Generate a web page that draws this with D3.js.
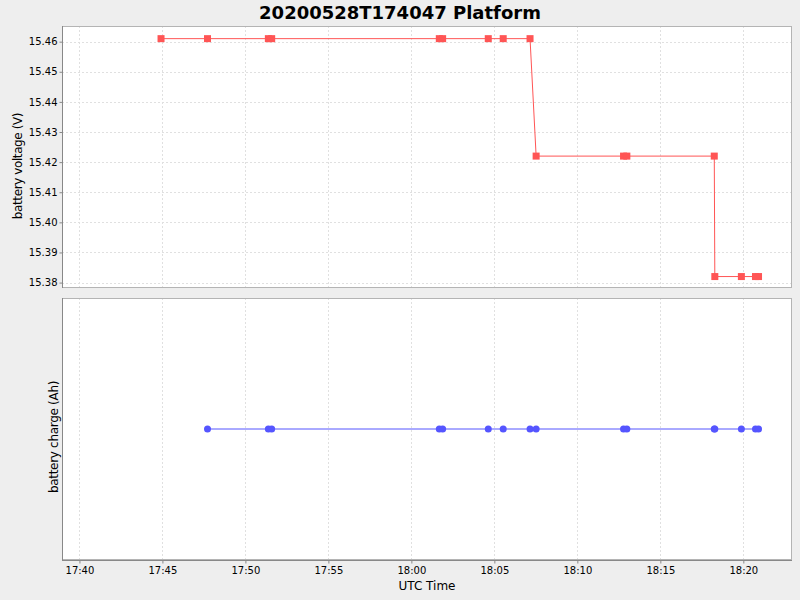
<!DOCTYPE html>
<html><head><meta charset="utf-8">
<script src="https://cdn.jsdelivr.net/npm/d3@7"></script>
<style>
body{margin:0;background:#eeeeee;}
svg{display:block;font-family:"DejaVu Sans",sans-serif;}
</style>
</head><body>
<svg id="c" width="800" height="600"></svg>
<script>
const title = "20200528T174047 Platform";
const day = "2020-05-28";
const voltageTimes = ["17:44:55","17:47:43","17:51:23","17:51:35","18:01:41","18:01:53","18:04:38","18:05:32","18:07:09",
                      "18:07:31","18:12:47","18:12:59","18:18:15",
                      "18:18:17","18:19:53","18:20:44","18:20:55"];
const voltageValues = [15.461,15.461,15.461,15.461,15.461,15.461,15.461,15.461,15.461,
                       15.422,15.422,15.422,15.422,
                       15.382,15.382,15.382,15.382];
const chargeTimes = ["17:47:43","17:51:23","17:51:35","18:01:41","18:01:53","18:04:38","18:05:32","18:07:09",
                     "18:07:31","18:12:47","18:12:59","18:18:15","18:18:17","18:19:53","18:20:44","18:20:55"];
const chargeValues = [0,0,0,0,0,0,0,0,0,0,0,0,0,0,0,0];
const voltageTicks = [15.38,15.39,15.40,15.41,15.42,15.43,15.44,15.45,15.46];
const timeDomain = ["17:38:57","18:22:56"];
const voltageDomain = [15.3782,15.4652];
const chargeDomain = [-1,1];

const parse = d3.utcParse("%Y-%m-%d %H:%M:%S");
const P = t => parse(day + " " + t);
const vData = voltageTimes.map((t,i)=>({t:P(t), v:voltageValues[i]}));
const cData = chargeTimes.map((t,i)=>({t:P(t), v:chargeValues[i]}));

const svg = d3.select("#c");
const L = 62, R = 792;
const top1 = 26, bot1 = 288, top2 = 298, bot2 = 560;

const x = d3.scaleUtc().domain(timeDomain.map(P)).range([L, R]);
const y1 = d3.scaleLinear().domain(voltageDomain).range([bot1, top1]);
const y2 = d3.scaleLinear().domain(chargeDomain).range([bot2, top2]);
const xTicks = x.ticks(d3.utcMinute.every(5));

// title
svg.append("text").attr("x", 400).attr("y", 18.5).attr("text-anchor","middle")
  .attr("font-size", 18).attr("font-weight","bold").attr("fill","#000").text(title);

const gridColor = "#e0e0e0";
function panel(y, top, bot, yTicks){
  svg.append("rect").attr("x", L).attr("y", top).attr("width", R-L).attr("height", bot-top)
    .attr("fill","#fff");
  const g = svg.append("g");
  g.selectAll("line.vg").data(xTicks).join("line")
    .attr("x1", d=>Math.round(x(d))+0.5).attr("x2", d=>Math.round(x(d))+0.5)
    .attr("y1", top).attr("y2", bot)
    .attr("stroke",gridColor).attr("stroke-dasharray","2,2").attr("stroke-width",1);
  if (yTicks){
    g.selectAll("line.hg").data(yTicks).join("line")
      .attr("x1", L).attr("x2", R)
      .attr("y1", d=>Math.round(y(d))+0.5).attr("y2", d=>Math.round(y(d))+0.5)
      .attr("stroke",gridColor).attr("stroke-dasharray","2,2").attr("stroke-width",1);
  }
  svg.append("rect").attr("x", L+0.5).attr("y", top+0.5).attr("width", R-L-1).attr("height", bot-top-1)
    .attr("fill","none").attr("stroke","#b4b4b4");
}
panel(y1, top1, bot1, voltageTicks);
panel(y2, top2, bot2, null);

// y axis top
const ya = d3.axisLeft(y1).tickValues(voltageTicks).tickFormat(d3.format(".2f")).tickSize(3).tickPadding(2);
const gy = svg.append("g").attr("transform", `translate(${L+0.5},0)`).call(ya);
gy.select(".domain").attr("stroke","#888").attr("d", `M0,${top1}V${bot1}`);
gy.selectAll(".tick line").attr("stroke","#888");
gy.selectAll(".tick text").attr("font-family","DejaVu Sans").attr("font-size",10).attr("fill","#000");

// left axis line bottom panel
svg.append("line").attr("x1",L+0.5).attr("x2",L+0.5).attr("y1",top2).attr("y2",bot2).attr("stroke","#888");

// x axis
const xa = d3.axisBottom(x).tickValues(xTicks).tickFormat(d3.utcFormat("%H:%M")).tickSize(3).tickPadding(3);
const gx = svg.append("g").attr("transform", `translate(0,${bot2+0.5})`).call(xa);
gx.select(".domain").attr("stroke","#888").attr("d", `M${L},0H${R}`);
gx.selectAll(".tick line").attr("stroke","#888");
gx.selectAll(".tick text").attr("font-family","DejaVu Sans").attr("font-size",10).attr("fill","#000");

// axis titles
svg.append("text").attr("transform","translate(22,166) rotate(-90)").attr("text-anchor","middle")
  .attr("font-size",12).attr("letter-spacing","-0.4").attr("fill","#000").text("battery voltage (V)");
svg.append("text").attr("transform","translate(58,437) rotate(-90)").attr("text-anchor","middle")
  .attr("font-size",12).attr("letter-spacing","-0.3").attr("fill","#000").text("battery charge (Ah)");
svg.append("text").attr("x",427).attr("y",590).attr("text-anchor","middle")
  .attr("font-size",12).attr("fill","#000").text("UTC Time");

// series
const red = "#ff5555", blue = "#5555ff";
svg.append("path").datum(vData)
  .attr("d", d3.line().x(d=>x(d.t)).y(d=>y1(d.v)))
  .attr("fill","none").attr("stroke",red).attr("stroke-width",1);
svg.selectAll("rect.vm").data(vData).join("rect").attr("class","vm")
  .attr("x", d=>x(d.t)-3.5).attr("y", d=>y1(d.v)-3.5).attr("width",7).attr("height",7).attr("fill",red);

svg.append("path").datum(cData)
  .attr("d", d3.line().x(d=>x(d.t)).y(d=>y2(d.v)))
  .attr("fill","none").attr("stroke",blue).attr("stroke-width",1);
svg.selectAll("circle.cm").data(cData).join("circle").attr("class","cm")
  .attr("cx", d=>x(d.t)).attr("cy", d=>y2(d.v)).attr("r",3.5).attr("fill",blue);
</script>
</body></html>
